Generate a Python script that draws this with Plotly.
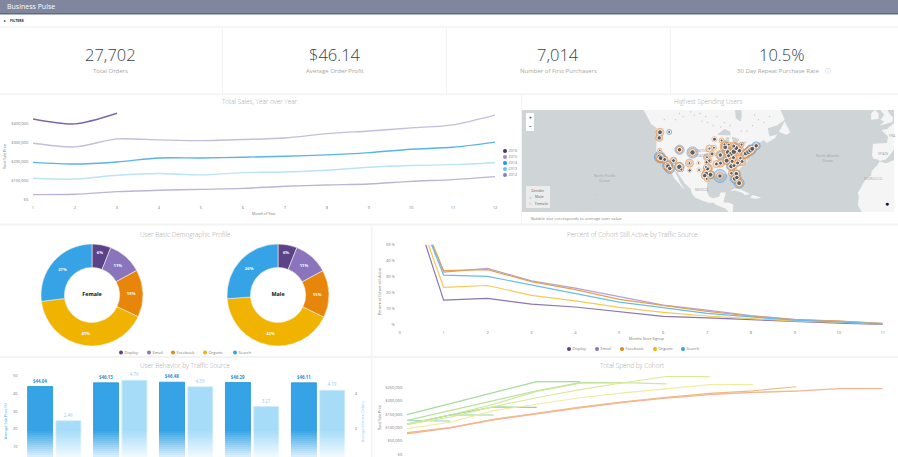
import numpy as np
import plotly.graph_objects as go

W, H = 898, 457
FONT = "Open Sans"

# KPI row
kpi_values = ["27,702", "$46.14", "7,014", "10.5%"]
kpi_labels = ["Total Orders", "Average Order Profit", "Number of First Purchasers", "30 Day Repeat Purchase Rate"]

# Total sales, year over year
months = list(range(1, 13))
sales_2016 = [426000, 400000, 456000]
sales_2015 = [298000, 279000, 321000, 316000, 312000, 318000, 326000, 349000, 363000, 379000, 395000, 446000]
sales_2014 = [198000, 189000, 200000, 221000, 221000, 225000, 230000, 237000, 249000, 267000, 277000, 304000]
sales_2013 = [114000, 110000, 130000, 139000, 132000, 144000, 147000, 156000, 172000, 181000, 186000, 196000]
sales_2012 = [28000, 30000, 44000, 51000, 56000, 61000, 72000, 79000, 84000, 98000, 107000, 123000]
sales_ticks = [0, 100000, 200000, 300000, 400000]
sales_tick_text = ["$0", "$100,000", "$200,000", "$300,000", "$400,000"]

# Demographic donuts
sources = ["Display", "Email", "Facebook", "Organic", "Search"]
female_share = [6, 11, 15, 41, 27]
male_share = [6, 11, 15, 41.4, 26]

# Percent of cohort still active
signup_months = list(range(0, 12))
active_display = [100, 15.5, 16.6, 13, 11.2, 8.5, 5.4, 4.4, 3.3, 1.9, 1.2, 0.4]
active_email = [100, 33, 35.2, 27.5, 23, 17.5, 12.4, 9.3, 5.8, 3.5, 2.5, 1]
active_facebook = [100, 33.8, 34.5, 27, 22, 16, 12.2, 8.5, 5.6, 3.2, 2.4, 0.9]
active_organic = [100, 23.5, 24.6, 18.5, 15, 11, 7.8, 5.6, 4, 2.5, 1.8, 0.7]
active_search = [100, 31, 30.3, 25, 19.5, 14.2, 10.8, 7.2, 5, 3, 2, 0.7]

# User behavior by traffic source
avg_sale_price = [44.04, 46.13, 46.48, 46.29, 46.11]
avg_orders = [2.46, 4.76, 4.39, 3.27, 4.19]

# Total spend by cohort, newest cohort first
cohort_spend = [
    [127000, 124000],
    [112000, 147000, 147000],
    [113000, 147000, 177000, 175000],
    [148000, 189000, 231000, 271000, 271000],
    [127000, 163000, 201000, 237000, 267000, 267000],
    [114000, 147000, 187000, 235000, 265000, 267000, 263000],
    [112000, 139000, 178000, 211000, 241000, 267000, 290000, 290000],
    [96000, 120000, 163000, 187000, 211000, 229000, 245000, 260000, 260000],
    [79000, 100000, 130000, 153000, 175000, 195000, 212000, 225000, 230000, 237000],
    [81000, 100000, 131000, 154000, 176000, 196000, 213000, 227000, 237000, 252000],
    [77000, 99000, 129000, 152000, 173000, 194000, 210000, 223000, 231000, 236000, 245000, 245000],
]
cohort_colors = ["#a5d9d0", "#8ed4a0", "#8fd48f", "#a2dc9c", "#b6e29e", "#cde79c",
                 "#dde99a", "#f0eca2", "#f5dfa0", "#f0bc7c", "#f4b49c"]
spend_ticks = [0, 50000, 100000, 150000, 200000, 250000]
spend_tick_text = ["$0", "$50,000", "$100,000", "$150,000", "$200,000", "$250,000"]

# Map outlines, lon/lat
north_america_lon = [-132, -131, -130, -128, -127, -124, -124.7, -123, -124, -124.2, -124.3, -122.5, -121, -118.5, -117.2,
                     -115.8, -114.7, -112.5, -110, -109.5, -111.5, -113, -114.8, -113, -110.5, -109, -106, -105.3, -103.5,
                     -100, -96, -94, -92, -89, -87.5, -85.7, -85, -83, -80, -78, -83.5, -83.3, -86, -88.5, -88, -87.3, -90.3,
                     -90.7, -94, -96, -97.5, -97.3, -97, -94.5, -91, -89, -89, -85, -83, -82.7, -81.5, -80.3, -80, -81.3,
                     -79.5, -76.5, -75.7, -76, -75, -74, -72, -70.5, -70.8, -67, -65.5, -61, -60, -64, -65, -60, -56, -58,
                     -60, -60, -132]
north_america_lat = [57, 55, 54, 52, 50.5, 49, 48.4, 48.2, 46.5, 43, 40.4, 37.8, 35.5, 34, 32.6,
                     30.3, 28, 26, 23, 23.2, 26, 29, 31.7, 31, 27.8, 25.5, 23, 20.5, 18.5,
                     17, 15.8, 16, 14.5, 13.2, 12.8, 11, 9.8, 8.3, 7.3, 7.5, 11, 15, 16, 16, 18.5, 21.3, 21,
                     19, 18.2, 19, 22, 26, 28, 29.5, 29.3, 29.2, 30.3, 29.7, 29, 27.7, 25.5, 25.5, 27, 30.5,
                     33, 34.7, 36, 37.5, 38.5, 40.5, 41, 41.7, 43, 44.7, 43.5, 45.5, 46.8, 46, 49, 50, 52, 55,
                     56.5, 60, 60]
cuba_lon = [-85, -82.5, -79, -74.2, -77.5, -78, -82]
cuba_lat = [21.9, 23.1, 22.5, 20.2, 19.9, 20.8, 22.2]
hispaniola_lon = [-74.4, -73, -68.4, -71, -74.4]
hispaniola_lat = [18.5, 19.9, 18.6, 18, 18.3]
newfoundland_lon = [-59, -56, -53, -55, -59]
newfoundland_lat = [47.7, 51.5, 47.5, 46.7, 47.7]
iberia_lon = [-9.5, -9, -1.5, -1, -4.5, -1.5, 2.5, 3, 3, 0, -2, -5.4, -6.3, -8.8]
iberia_lat = [38.5, 43.2, 43.5, 46, 48.4, 48.8, 51, 50, 41.8, 38.5, 36.8, 36, 36.7, 37]
africa_lon = [-5.5, -2, 3, 3, -14, -15, -17, -16.5, -17, -13, -10, -9.7, -6.8]
africa_lat = [35.8, 35, 36.8, 10, 10, 11, 14.7, 19, 21, 27.5, 29.5, 31.5, 34]
britain_lon = [-5.5, 1.4, 1.7, -0.3, -1.5, -5, -3, -5, -3]
britain_lat = [50, 51.2, 52.7, 54, 55.5, 55, 53.5, 52, 51.3]
ireland_lon = [-10, -6, -6, -8, -10]
ireland_lat = [52, 52.2, 54, 55.2, 54]
hudson_lon = [-92, -85, -82.3, -82, -79.5, -78.8, -79, -77, -92]
hudson_lat = [57, 55.3, 55, 52.5, 51.3, 53, 55, 57, 58]
superior_lon = [-92, -88, -85, -84.7, -87]
superior_lat = [46.7, 48.8, 47.9, 46.5, 46.5]
michigan_lon = [-87.8, -86.5, -85.2, -87, -87.9]
michigan_lat = [41.7, 41.8, 45.7, 45.7, 43.5]
huron_lon = [-84, -80, -81.7, -83.5]
huron_lat = [46, 45, 43, 43.8]
erie_lon = [-83.3, -79, -79, -83]
erie_lat = [41.6, 42.8, 43, 42.2]
ontario_lon = [-79.7, -76.3, -76.3, -79.5]
ontario_lat = [43.2, 43.4, 44.1, 43.8]
lake_dot_lon = [-97, -98, -94, -101, -104, -106, -100, -92, -88, -85, -76, -73, -70, -67, -64, -110, -112, -114, -120, -90, -79, -72, -156]
lake_dot_lat = [51, 53, 50, 54, 53.5, 54.5, 51.5, 53, 51, 50, 48, 50, 52, 51, 53, 53, 54, 52, 52, 49.5, 48, 53.5, 20]

# Highest spending users, one row per metro
city_lon = [-122.3, -122.7, -122.4, -117.4, -122.4, -121.9, -119.8, -118.2, -118, -117.1, -115.1, -112, -110.9, -111.9,
            -105, -106.6, -106.5, -97.5, -97.3, -94.6, -96, -93.3, -96.8, -97.1, -97.7, -98.5, -95.4, -97.9, -92.3,
            -90.1, -90.2, -90.4, -87.6, -88, -86.2, -84.5, -83, -81.7, -83.1, -80, -86.8, -85.8, -84.4, -83.9, -81,
            -78.6, -77, -76.6, -75.2, -74, -73.2, -71.1, -78.9, -81.7, -82.5, -81.4, -80.2, -83.2, -85.7, -82.9,
            -101.5, -97.4, -101.8, -96, -93.6, -89.5, -84.3, -79.5]
city_lat = [47.6, 45.5, 40.6, 47.7, 37.8, 37.3, 36.7, 34, 33.7, 32.7, 36.2, 33.4, 32.2, 40.8,
            39.7, 35.1, 31.8, 35.5, 37.7, 39.1, 41.3, 45, 32.8, 32.6, 30.3, 29.4, 29.8, 33.4, 34.7,
            35.1, 38.6, 29.2, 41.9, 43, 39.8, 39.1, 40, 41.5, 42.3, 40.4, 36.2, 38.3, 33.7, 35.9, 35.2,
            35.8, 38.9, 39.3, 40, 40.7, 41.2, 42.4, 42.9, 30.3, 27.9, 28.5, 25.8, 37.5, 42.9, 34,
            32, 27.8, 35.2, 36.2, 41.6, 44.5, 30.5, 37.3]
male_size = [5, 5, 0, 5, 11, 9, 5, 10, 8, 10, 5, 9, 4, 9,
             11, 4, 0, 0, 4, 4, 0, 0, 7, 5, 7, 5, 8, 0, 0,
             5, 7, 13, 8, 4, 7, 7, 7, 8, 5, 5, 7, 4, 9, 4, 5,
             5, 8, 8, 9, 10, 8, 8, 4, 7, 9, 8, 10, 4, 4, 5,
             0, 0, 0, 4, 0, 0, 4, 0]
female_size = [8, 7, 4, 0, 8, 10, 7, 9, 8, 8, 7, 9, 4, 7,
               8, 8, 4, 4, 7, 5, 7, 5, 9, 7, 8, 7, 8, 4, 7,
               8, 9, 7, 10, 7, 10, 9, 11, 10, 8, 9, 8, 7, 8, 7, 7,
               8, 9, 8, 8, 9, 7, 5, 5, 8, 7, 8, 7, 7, 5, 7,
               4, 5, 3, 5, 5, 5, 6, 6]
core_size = [5, 4.5, 2.5, 3, 6, 5, 4, 6, 5, 4.5, 4, 5.5, 3, 4.5,
             5.5, 3, 3.5, 3.5, 3, 4, 3, 4, 5, 4.5, 5, 4.5, 5, 3, 4,
             4, 4.5, 4.5, 5, 3, 5, 5, 5.5, 5, 4, 4.5, 5, 4, 5, 4, 4,
             4, 5, 5, 5.5, 6, 5, 4.5, 3, 4.5, 5, 4.5, 5, 4, 3, 4,
             3, 3, 2.5, 3.5, 3, 3, 3.5, 3.5]

map_labels = ["UNITED<br>STATES", "MEXICO", "North Pacific<br>Ocean", "North Atlantic<br>Ocean", "SPAIN", "MOROCCO", "FRA"]

PURPLE_D, PURPLE, ORANGE, GOLD, BLUE = "#5a4389", "#8a75bd", "#e8860c", "#f0b400", "#35a3e5"
GRAY_TITLE = "#a8a8a8"
TICK = "#777777"


def xdom(a, b):
    return [a / W, b / W]


def ydom(top, bottom):
    return [1 - bottom / H, 1 - top / H]


def merc(lat):
    return np.log(np.tan(np.pi / 4 + np.radians(np.asarray(lat, dtype=float)) / 2))


annotations = []
shapes = []


def text(x, y, s, size=5, color=TICK, anchor="center", angle=0, weight=400, opacity=1):
    annotations.append(dict(x=x / W, y=1 - y / H, xref="paper", yref="paper", text=s, showarrow=False,
                            xanchor=anchor, yanchor="middle", textangle=angle, opacity=opacity,
                            font=dict(family=FONT, size=size, color=color, weight=weight)))


def rect(x0, y0, x1, y1, color, layer="below", opacity=1):
    shapes.append(dict(type="rect", xref="paper", yref="paper", x0=x0 / W, x1=x1 / W,
                       y0=1 - y0 / H, y1=1 - y1 / H, fillcolor=color, opacity=opacity, layer=layer,
                       line=dict(width=0)))


fig = go.Figure()

# page furniture
rect(0, 0, W, 13, "#7f869e")
rect(0, 13, W, 14.5, "#5f6a84")
rect(0, 26, W, 28, "#f6f6f6")
rect(0, 93.5, W, 95, "#f3f3f3")
rect(0, 223.5, W, 225.5, "#f3f3f3")
rect(0, 356, W, 358, "#f3f3f3")
for vx in (222, 446, 670):
    rect(vx, 28, vx + 1, 94, "#f3f3f3")
rect(521, 95, 522, 224, "#f3f3f3")
rect(371, 225, 372.5, H, "#f3f3f3")

text(5, 7, "Business Pulse", 7, "#ffffff", "left")
text(8, 20.5, "FILTERS", 3.6, "#222222", "left", weight=700)
text(4.5, 20.5, "▸", 4, "#222222", "center")

for cx, lx, val, lab in zip((110, 334.5, 558, 782), (110, 334.5, 558, 778), kpi_values, kpi_labels):
    text(cx, 54.5, val, 16.5, "#3a3f4a", weight=300)
    text(lx, 70.5, lab, 6, "#a6a6a6")
text(827.5, 70.5, "ⓘ", 5.5, "#bbbbbb")

text(260, 102, "Total Sales, Year over Year", 6.4, GRAY_TITLE, weight=300)
text(708, 102, "Highest Spending Users", 6.4, GRAY_TITLE, weight=300)
text(185, 234.5, "User Basic Demographic Profile", 6.4, GRAY_TITLE, weight=300)
text(632, 234.5, "Percent of Cohort Still Active by Traffic Source", 6.4, GRAY_TITLE, weight=300)
text(185, 365.5, "User Behavior by Traffic Source", 6.4, GRAY_TITLE, weight=300)
text(632, 365.5, "Total Spend by Cohort", 6.4, GRAY_TITLE, weight=300)


def axis_style(dom, **kw):
    d = dict(domain=dom, showgrid=False, zeroline=False, showline=False, ticks="outside", ticklen=3,
             tickcolor="rgba(0,0,0,0)", tickfont=dict(family=FONT, size=4, color=TICK), ticklabeloverflow="allow")
    d.update(kw)
    return d


# total sales
sales_series = [("2016", sales_2016, "#7c68a6", "#4a2f7f"), ("2015", sales_2015, "#c6bcdc", "#a08fc9"),
                ("2014", sales_2014, "#58b4ea", "#1f9ae0"), ("2013", sales_2013, "#bbe3f7", "#6cc4f5"),
                ("2012", sales_2012, "#bdb4d4", "#8a7bbf")]
for name, vals, col, _ in sales_series:
    fig.add_trace(go.Scatter(x=months[:len(vals)], y=vals, mode="lines", name=name, xaxis="x", yaxis="y",
                             line=dict(color=col, width=1.4, shape="spline", smoothing=0.8)))
text(5, 157, "Total Sale Price", 3.6, TICK, angle=-90)
text(264, 213.5, "Month of Year", 3.6, TICK)

# map
shapes.append(dict(type="rect", xref="x2 domain", yref="y2 domain", x0=0, x1=1, y0=0, y1=1,
                   fillcolor="#cfd4d6", line=dict(width=0), layer="below"))
land = [(north_america_lon, north_america_lat), (cuba_lon, cuba_lat), (hispaniola_lon, hispaniola_lat),
        (newfoundland_lon, newfoundland_lat), (iberia_lon, iberia_lat), (africa_lon, africa_lat),
        (britain_lon, britain_lat), (ireland_lon, ireland_lat)]
water = [(hudson_lon, hudson_lat), (superior_lon, superior_lat), (michigan_lon, michigan_lat),
         (huron_lon, huron_lat), (erie_lon, erie_lat), (ontario_lon, ontario_lat)]
for lons, lats, in land:
    fig.add_trace(go.Scatter(x=lons, y=merc(lats), mode="lines", fill="toself", fillcolor="#f5f5f5",
                             line=dict(width=0), xaxis="x2", yaxis="y2", hoverinfo="skip"))
for lons, lats in water:
    fig.add_trace(go.Scatter(x=lons, y=merc(lats), mode="lines", fill="toself", fillcolor="#cfd4d6",
                             line=dict(width=0), xaxis="x2", yaxis="y2", hoverinfo="skip"))
fig.add_trace(go.Scatter(x=lake_dot_lon, y=merc(lake_dot_lat), mode="markers", xaxis="x2", yaxis="y2",
                         marker=dict(size=1.4, color="#c4c9cc"), hoverinfo="skip"))

lon_arr, lat_arr = np.array(city_lon), merc(city_lat)
for sizes, fillc, linec, name in ((male_size, "rgba(90,155,220,0.40)", "#5f9fdc", "Male"),
                                  (female_size, "rgba(236,148,72,0.35)", "#ec9448", "Female")):
    sz = np.array(sizes, dtype=float)
    keep = sz > 0
    fig.add_trace(go.Scatter(x=lon_arr[keep], y=lat_arr[keep], mode="markers", name=name, xaxis="x2", yaxis="y2",
                             marker=dict(size=sz[keep], color=fillc, line=dict(width=1, color=linec))))
fig.add_trace(go.Scatter(x=lon_arr, y=lat_arr, mode="markers", xaxis="x2", yaxis="y2",
                         marker=dict(size=core_size, color="#5b5350", opacity=0.9)))

rect(526, 113, 534, 131, "#ffffff", layer="above")
text(530, 117.5, "+", 5, "#333333", weight=700)
text(530, 126, "–", 5, "#333333", weight=700)
rect(526, 186, 550, 208, "rgba(240,240,240,0.85)", layer="above")
text(529, 190.5, "Gender", 3.8, "#666666", "left")
text(533, 197, "Male", 3.8, "#666666", "left")
text(533, 203.5, "Female", 3.8, "#666666", "left")
text(530.5, 197, "○", 4.5, "#5f9fdc")
text(530.5, 203.5, "○", 4.5, "#ec9448")
for (mx, my), lab in zip(((701, 153), (702, 190), (605, 178), (828, 158), (883, 153), (873, 178), (892, 136)), map_labels):
    text(mx, my, lab, 3.6, "#9ba1a5", opacity=0.9)
text(887, 204, "●", 7, "#111111")
text(529, 218, "Bubble size corresponds to average user value", 4.2, "#8a8a8a", "left")

# donuts
for share, name, a, b in ((female_share, "Female", 41, 143), (male_share, "Male", 227, 329)):
    fig.add_trace(go.Pie(values=share, labels=sources, sort=False, direction="clockwise", rotation=0, hole=0.54,
                         domain=dict(x=xdom(a, b), y=ydom(244, 346)), showlegend=False,
                         marker=dict(colors=[PURPLE_D, PURPLE, ORANGE, GOLD, BLUE], line=dict(color="#f4eee6", width=0.6)),
                         texttemplate="%{percent:.0%}", textposition="inside", insidetextorientation="horizontal",
                         textfont=dict(family=FONT, size=4.2, color="#ffffff", weight=700),
                         title=dict(text=name, position="middle center",
                                    font=dict(family=FONT, size=5.4, color="#111111", weight=700))))

# cohort still active
active_series = [("Display", active_display, "#8a76b0"), ("Email", active_email, "#b3a3d6"),
                 ("Facebook", active_facebook, "#e9a04a"), ("Organic", active_organic, "#f6ca55"),
                 ("Search", active_search, "#67bcee")]
for name, vals, col in active_series:
    fig.add_trace(go.Scatter(x=signup_months, y=vals, mode="lines", name=name, xaxis="x3", yaxis="y3",
                             line=dict(color=col, width=1.2)))
text(379, 292, "Percent of Cohort still Active", 3.6, TICK, angle=-90)
text(646, 338, "Months Since Signup", 3.6, TICK)

# behaviour bars
fig.add_trace(go.Bar(x=list(range(5)), y=avg_sale_price, name="Average Sale Price ($)", xaxis="x4", yaxis="y4",
                     width=0.379, offset=-0.404, marker=dict(color=BLUE, line=dict(color="#1f94dc", width=0.8)),
                     text=[f"${v:.2f}" for v in avg_sale_price], textposition="outside", cliponaxis=False,
                     textfont=dict(family=FONT, size=4.4, color="#1f8fd6", weight=700)))
fig.add_trace(go.Bar(x=list(range(5)), y=avg_orders, name="Average Lifetime Orders", xaxis="x4", yaxis="y5",
                     width=0.379, offset=0.025, marker=dict(color="#a6dcf8", line=dict(color="#cdebfb", width=0.8)),
                     text=[f"{v:.2f}" for v in avg_orders], textposition="outside", cliponaxis=False,
                     textfont=dict(family=FONT, size=4.4, color="#8fcdf0")))
# fade the lower part of the bars into the page
for i in range(14):
    top = 431 + i * 2
    rect(22, top, 351, top + 2, "#ffffff", layer="above", opacity=0.88 * (i + 1) / 14)
text(5, 421, "Average Sale Price ($)", 3.6, "#35a3e5", angle=-90)
text(362, 422, "Average Lifetime Orders", 3.6, "#8fcdf0", angle=-90)

# total spend by cohort
for vals, col in zip(cohort_spend, cohort_colors):
    fig.add_trace(go.Scatter(x=signup_months[:len(vals)], y=vals, mode="lines", xaxis="x5", yaxis="y6",
                             line=dict(color=col, width=1.2)))
text(379, 418, "Total Sale Price", 3.6, TICK, angle=-90)

# hand built legends, the stock legend keeps too wide a symbol column for this spacing
fig.add_trace(go.Scatter(x=[505] * 5, y=[151, 157, 163, 169, 175], mode="markers+text", xaxis="x6", yaxis="y7",
                         marker=dict(size=4, color=[s[3] for s in sales_series]), text=[s[0] for s in sales_series],
                         textposition="middle right", textfont=dict(family=FONT, size=3.8, color=TICK)))
swatches = [PURPLE_D, PURPLE, ORANGE, GOLD, BLUE]
for legend_x, legend_y in (([121, 149, 173, 205, 235], 352.5), ([569, 597, 622, 655, 683], 349)):
    fig.add_trace(go.Scatter(x=legend_x, y=[legend_y] * 5, mode="markers+text", xaxis="x6", yaxis="y7",
                             marker=dict(size=4, color=swatches), text=sources,
                             textposition="middle right", textfont=dict(family=FONT, size=4, color=TICK)))

fig.update_layout(
    width=W, height=H, margin=dict(l=0, r=0, t=0, b=0, pad=0, autoexpand=False), paper_bgcolor="#ffffff",
    plot_bgcolor="rgba(0,0,0,0)", showlegend=False, font=dict(family=FONT), annotations=annotations, shapes=shapes,
    xaxis=axis_style(xdom(33, 495), range=[1, 12], tickvals=months),
    yaxis=axis_style(ydom(110, 200), range=[0, 473000], tickvals=sales_ticks, ticktext=sales_tick_text),
    xaxis2=axis_style(xdom(522, 894), range=[-195.7, 2.2], visible=False, anchor="y2"),
    yaxis2=axis_style(ydom(110, 212), range=[float(merc(11)), float(merc(55.1))], visible=False, anchor="x2"),
    xaxis3=axis_style(xdom(399.7, 882.7), range=[0, 11], dtick=1, anchor="y3"),
    yaxis3=axis_style(ydom(244.7, 325), range=[0, 50], tickvals=[0, 10, 20, 30, 40, 50],
                      ticktext=["%", "10 %", "20 %", "30 %", "40 %", "50 %"], anchor="x3"),
    xaxis4=axis_style(xdom(21.3, 351), range=[-0.5, 4.5], visible=False, anchor="y4"),
    yaxis4=axis_style(ydom(376, H), range=[4.1, 50], tickvals=[10, 20, 30, 40, 50], ticklen=2, anchor="x4"),
    yaxis5=axis_style(ydom(376, H), range=[0.41, 5.0], overlaying="y4", side="right", tickvals=[2, 4], ticklen=2,
                      anchor="x4"),
    xaxis5=axis_style(xdom(407, 882.7), range=[0, 11], visible=False, anchor="y6"),
    yaxis6=axis_style(ydom(370, H), range=[-9300, 314300], tickvals=spend_ticks, ticktext=spend_tick_text, anchor="x5"),
    xaxis6=axis_style([0, 1], range=[0, W], visible=False, anchor="y7"),
    yaxis7=axis_style([0, 1], range=[H, 0], visible=False, anchor="x6"),
)

fig.write_html("out.html", config=dict(displayModeBar=False),
               post_script="document.body.style.margin='0';document.body.style.overflow='hidden';")
